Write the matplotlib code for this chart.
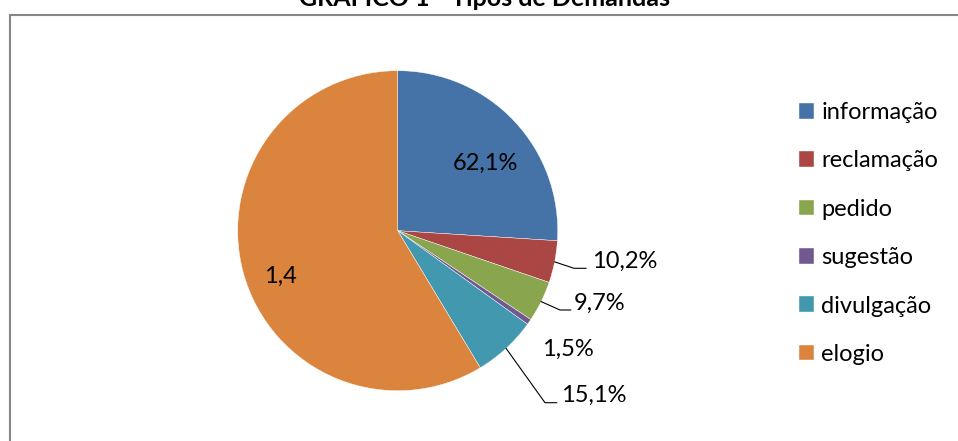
import numpy as np
import matplotlib
matplotlib.use('Agg')
import matplotlib.pyplot as plt
from matplotlib.patches import Rectangle

categories = ['informação', 'reclamação', 'pedido', 'sugestão', 'divulgação', 'elogio']
# slice sizes (share of the circle, %)
shares = [26.0, 4.24, 4.13, 0.57, 6.43, 58.63]
# data labels as printed on the chart
data_labels = ['62,1%', '10,2%', '9,7%', '1,5%', '15,1%', '1,4']
colors = ['#4572A7', '#AA4643', '#89A54E', '#71588F', '#4198AF', '#DB843D']

W, H = 958, 441
plt.rcParams['font.family'] = ['Lato', 'DejaVu Sans']

fig = plt.figure(figsize=(W / 100, H / 100), dpi=100)
ax = fig.add_axes([0, 0, 1, 1])

cx, cy, r = 397.7, H - 230.7, 160
wedges, _ = ax.pie(shares, colors=colors, startangle=90, counterclock=False,
                   center=(cx, cy), radius=r,
                   wedgeprops=dict(edgecolor='white', linewidth=0.3))
ax.set_xlim(0, W)
ax.set_ylim(0, H)
ax.set_aspect('equal')
ax.axis('off')

# chart frame (cut by the right and bottom edges)
fig.patches.append(Rectangle((9.5 / W, -0.5), 1.5, (H - 14.5) / H + 0.5,
                             transform=fig.transFigure, fill=False,
                             edgecolor='#868686', linewidth=1.5))

fig.text(485 / W, 1 - 6 / H, 'GRÁFICO 1 - Tipos de Demandas', ha='center',
         va='baseline', fontsize=18, fontweight='bold')

fs = 17
# labels inside slices
ax.text(485, H - 163.3, data_labels[0], ha='center', va='center', fontsize=fs)
ax.text(280, H - 276.7, data_labels[5], ha='center', va='center', fontsize=fs)
ax.text(541.7, H - 349.3, data_labels[3], ha='left', va='center', fontsize=fs)

# labels with leader lines: (index, elbow, end of line, text pos)
leaders = [(1, (574, 268.3), (586, 268.3), (591.7, 261.7)),
           (2, (560, 310), (570.7, 310), (574, 303.3)),
           (4, (545, 402.7), (556.7, 402.7), (561, 395))]
for i, elbow, end, tpos in leaders:
    w = wedges[i]
    mid = np.deg2rad((w.theta1 + w.theta2) / 2)
    sx, sy = cx + r * np.cos(mid), cy + r * np.sin(mid)
    ax.plot([sx, elbow[0], end[0]], [sy, H - elbow[1], H - end[1]],
            color='black', linewidth=0.8)
    ax.text(tpos[0], H - tpos[1], data_labels[i], ha='left', va='center', fontsize=fs)

leg = ax.legend(wedges, categories, loc='upper left',
                bbox_to_anchor=(799 / W, 1 - 102 / H), bbox_transform=fig.transFigure,
                frameon=False, fontsize=fs, handlelength=0.64, handleheight=0.64,
                handletextpad=0.3, labelspacing=1.16, borderpad=0, borderaxespad=0)

fig.savefig('out.png', dpi=100)
